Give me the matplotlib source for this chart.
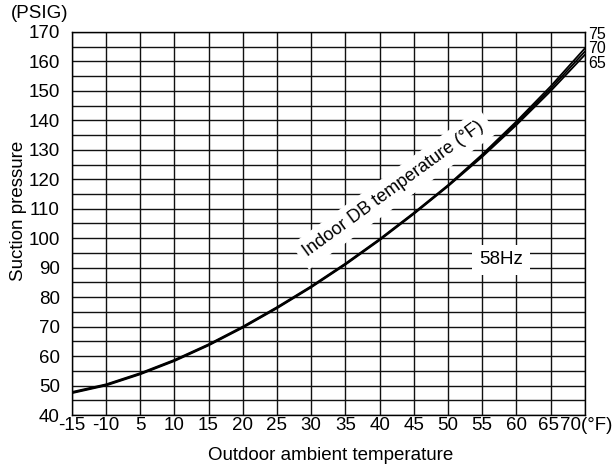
import numpy as np
import matplotlib
matplotlib.use("Agg")
import matplotlib.pyplot as plt
import matplotlib.transforms as mtransforms

plt.rcParams['font.family'] = ['Liberation Sans', 'DejaVu Sans']

# outdoor ambient temperature tick labels (gridlines are evenly spaced)
outdoor_labels = ['-15', '-10', '5', '10', '15', '20', '25', '30', '35',
                  '40', '45', '50', '55', '60', '65', '70(°F)']
outdoor_pos = np.arange(len(outdoor_labels))

# suction pressure (PSIG) read at each gridline, one curve per indoor DB temp
suction_65 = [47.4, 50.0, 53.8, 58.3, 63.6, 69.6, 76.2, 83.3, 91.0, 99.3,
              108.2, 117.6, 127.6, 138.4, 149.9, 162.2]
suction_70 = [47.6, 50.2, 54.0, 58.5, 63.8, 69.8, 76.4, 83.5, 91.2, 99.5,
              108.4, 117.8, 128.0, 139.0, 150.7, 163.3]
suction_75 = [47.8, 50.4, 54.2, 58.7, 64.0, 70.0, 76.6, 83.7, 91.4, 99.7,
              108.6, 118.0, 128.4, 139.6, 151.5, 164.4]
indoor_temps = ['75', '70', '65']
indoor_label_y = [169.0, 164.2, 159.4]

fig = plt.figure(figsize=(6.13, 4.73), dpi=100)
ax = fig.add_axes([0.117, 0.1226, 0.837, 0.81])

# grid: vertical line at every tick, horizontal every 5 psig
for x in outdoor_pos:
    ax.axvline(x, color='#111111', lw=1.0, zorder=1)
for y in range(40, 171, 5):
    ax.axhline(y, color='#111111', lw=1.0, zorder=1)

for series in (suction_65, suction_70, suction_75):
    ax.plot(outdoor_pos, series, color='black', lw=1.3,
            solid_joinstyle='round', zorder=4)

ax.set_xlim(0, 15)
ax.set_ylim(40, 170)
ax.set_xticks(outdoor_pos)
ax.set_xticklabels(outdoor_labels)
ax.set_yticks(range(40, 171, 10))
ax.tick_params(axis='x', length=0, pad=1.5, labelsize=13.5)
ax.tick_params(axis='y', length=0, pad=8.5, labelsize=13.5)
for sp in ax.spines.values():
    sp.set_color('black')
    sp.set_linewidth(1.0)

# last two x labels sit very close, nudge them apart a little
xlabs = ax.get_xticklabels()
xlabs[-2].set_transform(xlabs[-2].get_transform() +
                        mtransforms.ScaledTranslation(-2 / 100, 0, fig.dpi_scale_trans))
xlabs[-1].set_transform(xlabs[-1].get_transform() +
                        mtransforms.ScaledTranslation(1 / 100, 0, fig.dpi_scale_trans))

# curve labels on the right edge, stacked tightly like the original
for name, yy in zip(indoor_temps, indoor_label_y):
    ax.text(15.1, yy, name, fontsize=11.5, ha='left', va='center',
            clip_on=False)

ax.text(9.42, 116.7, 'Indoor DB temperature (°F)', fontsize=13,
        rotation=36, rotation_mode='anchor', ha='center', va='center',
        bbox=dict(facecolor='white', edgecolor='none', pad=5), zorder=3)
ax.text(12.55, 92.6, '58Hz', fontsize=13.5, ha='center', va='center',
        bbox=dict(facecolor='white', edgecolor='none', pad=5), zorder=3)

fig.text(0.064, 0.972, '(PSIG)', fontsize=13.5, ha='center', va='center')
fig.text(0.030, 0.554, 'Suction pressure', fontsize=13.5, rotation=90,
         ha='center', va='center')
fig.text(0.54, 0.038, 'Outdoor ambient temperature', fontsize=13.5,
         ha='center', va='center')

plt.savefig('out.png', dpi=100)
